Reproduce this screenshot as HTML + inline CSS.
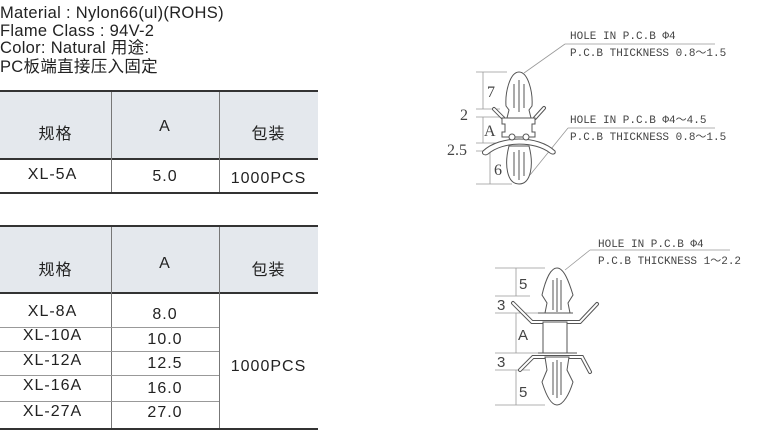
<!DOCTYPE html>
<html><head><meta charset="utf-8"><style>
body{margin:0;width:780px;height:434px;background:#fff;overflow:hidden;position:relative;font-family:"Liberation Sans","Noto Sans CJK SC",sans-serif;color:#222}
.t{position:absolute;left:0;font-size:16.5px;line-height:17px;letter-spacing:0.3px}
.a{position:absolute;font-size:16px;text-align:center;letter-spacing:1px}
.hd{position:absolute;background:#e4e8ed}
.l{position:absolute;background:#333}
.v{position:absolute;background:#777;width:1px}
.g{position:absolute;background:#999;height:1px}
</style></head><body>
<div class="t" style="top:5px">Material : Nylon66(ul)(ROHS)</div>
<div class="t" style="top:23px">Flame Class : 94V-2</div>
<div class="t" style="top:40px">Color: Natural 用途:</div>
<div class="t" style="top:59px">PC板端直接压入固定</div>

<!-- table 1 -->
<div class="hd" style="left:0;top:92px;width:318px;height:66px"></div>
<div class="l" style="left:0;top:90px;width:318px;height:2px"></div>
<div class="l" style="left:0;top:158px;width:318px;height:2px"></div>
<div class="l" style="left:0;top:192px;width:318px;height:2px"></div>
<div class="v" style="left:111px;top:92px;height:100px"></div>
<div class="v" style="left:219px;top:92px;height:100px"></div>
<div class="a" style="left:0;width:111px;top:120px">规格</div>
<div class="a" style="left:111px;width:108px;top:118px">A</div>
<div class="a" style="left:219px;width:99px;top:120px">包装</div>
<div class="a" style="left:0;width:105px;top:166px">XL-5A</div>
<div class="a" style="left:111px;width:108px;top:168px">5.0</div>
<div class="a" style="left:219px;width:99px;top:170px">1000PCS</div>

<!-- table 2 -->
<div class="hd" style="left:0;top:227px;width:318px;height:66px"></div>
<div class="l" style="left:0;top:225px;width:318px;height:2px"></div>
<div class="l" style="left:0;top:292px;width:318px;height:2px"></div>
<div class="l" style="left:0;top:428px;width:318px;height:2px"></div>
<div class="v" style="left:111px;top:227px;height:201px"></div>
<div class="v" style="left:219px;top:227px;height:201px"></div>
<div class="g" style="left:0;top:327px;width:219px"></div>
<div class="g" style="left:0;top:351px;width:219px"></div>
<div class="g" style="left:0;top:375px;width:219px"></div>
<div class="g" style="left:0;top:401px;width:219px"></div>
<div class="a" style="left:0;width:111px;top:256px">规格</div>
<div class="a" style="left:111px;width:108px;top:255px">A</div>
<div class="a" style="left:219px;width:99px;top:256px">包装</div>
<div class="a" style="left:0;width:105px;top:303px">XL-8A</div>
<div class="a" style="left:0;width:105px;top:327px">XL-10A</div>
<div class="a" style="left:0;width:105px;top:352px">XL-12A</div>
<div class="a" style="left:0;width:105px;top:377px">XL-16A</div>
<div class="a" style="left:0;width:105px;top:403px">XL-27A</div>
<div class="a" style="left:111px;width:108px;top:306px">8.0</div>
<div class="a" style="left:111px;width:108px;top:331px">10.0</div>
<div class="a" style="left:111px;width:108px;top:355px">12.5</div>
<div class="a" style="left:111px;width:108px;top:380px">16.0</div>
<div class="a" style="left:111px;width:108px;top:404px">27.0</div>
<div class="a" style="left:219px;width:99px;top:358px">1000PCS</div>

<svg style="position:absolute;left:0;top:0" width="780" height="434">
<g font-family="Liberation Mono, monospace" font-size="11" fill="#444">
<text x="570" y="39">HOLE IN P.C.B Φ4</text>
<text x="570" y="56">P.C.B THICKNESS 0.8～1.5</text>
<text x="570" y="123">HOLE IN P.C.B Φ4～4.5</text>
<text x="570" y="140">P.C.B THICKNESS 0.8～1.5</text>
<text x="598" y="247">HOLE IN P.C.B Φ4</text>
<text x="598" y="264">P.C.B THICKNESS 1～2.2</text>
</g>
<g stroke="#999" stroke-width="0.8" fill="none">
<path d="M565 44H715M565 44L524 73"/>
<path d="M568 128H715M568 128L530 175"/>
<path d="M590 250H730M590 250L565 270"/>
<path d="M476 72H507M476 109H500M476 117H505M476 143H498M476 151H485M476 184H512"/>
<path d="M483 72V109M483 117V143M490 151V184"/>
<path d="M495 268H545M495 296H530M495 313H540M495 353H540M495 370H530M495 405H545"/>
<path d="M516 268V296M516 313V353M516 370V405"/>
</g>
<g font-family="Liberation Serif, serif" font-size="16" fill="#444">
<text x="487" y="97">7</text><text x="460" y="120">2</text><text x="484" y="136">A</text>
<text x="447" y="155">2.5</text><text x="494" y="175">6</text>
</g>
<g font-family="Liberation Sans, sans-serif" font-size="15" fill="#444">
<text x="519" y="289">5</text><text x="497" y="310">3</text><text x="518" y="340">A</text>
<text x="497" y="367">3</text><text x="519" y="397">5</text>
</g>
<g stroke="#555" stroke-width="1" fill="#fff">
<path d="M519 72C510 72 505 92 506 106L509 110L507 118H531L529 110L532 106C533 92 528 72 519 72Z"/>
<path d="M514 84V108M519 80V112M524 84V108" fill="none"/>
<path d="M503 118L494 109M535 118L544 108" fill="none" stroke-width="4" stroke-linecap="round"/>
<path d="M503 118L494 109M535 118L544 108" fill="none" stroke="#fff" stroke-width="2" stroke-linecap="round"/>
<path d="M502 118H535V124H532V132H535V137H502V132H505V124H502Z"/>
<path d="M483 151C500 135 538 135 555 151C556 154 553 155 550 153C535 141 503 141 488 154C485 156 481 154 483 151Z"/>
<circle cx="512" cy="137" r="3"/><circle cx="526" cy="137" r="3"/>
<path d="M509 146C504 165 507 184 519 184C531 184 534 165 529 146Z"/>
<path d="M514 152V176M519 150V180M524 152V176" fill="none"/>
<path d="M557 268C550 268 545 282 542 295L547 303L545 313H570L568 303L573 295C569 282 564 268 557 268Z"/>
<path d="M553 280V310M557 278V312M561 280V310" fill="none"/>
<path d="M513 303L532 322H580L597 304" fill="none" stroke-width="4" stroke-linecap="round"/>
<path d="M513 303L532 322H580L597 304" fill="none" stroke="#fff" stroke-width="2" stroke-linecap="round"/>
<path d="M538 313H573" fill="none"/>
<path d="M543 322H567V353H543Z"/>
<path d="M520 370L533 357H582L590 372" fill="none" stroke-width="4" stroke-linecap="round"/>
<path d="M520 370L533 357H582L590 372" fill="none" stroke="#fff" stroke-width="2" stroke-linecap="round"/>
<path d="M538 353H577" fill="none"/>
<path d="M545 357L547 370L542 382C546 395 551 405 557 405C563 405 569 395 573 382L567 370L569 357Z"/>
<path d="M553 362V395M557 360V398M561 362V395" fill="none"/>
</g>
</svg>
</body></html>
